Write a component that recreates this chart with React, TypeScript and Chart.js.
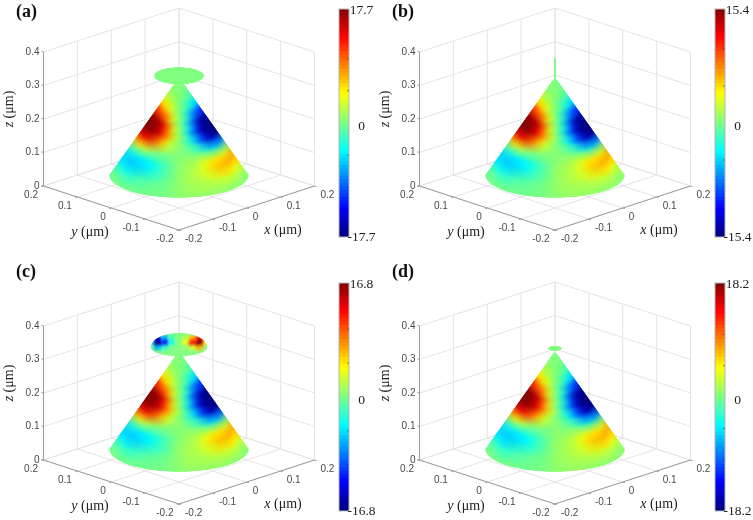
import React, { useEffect, useRef } from "react";
import { Chart, registerables } from "chart.js";

Chart.register(...registerables);

const panelLabels = ["(a)", "(b)", "(c)", "(d)"];
const colorbarPeaks = [17.7, 15.4, 16.8, 18.2];
const colorbarTicks = [-15, -10, -5, 5, 10, 15];
const xTicks = [-0.2, -0.1, 0, 0.1, 0.2];
const yTicks = [-0.2, -0.1, 0, 0.1, 0.2];
const zTicks = [0, 0.1, 0.2, 0.3, 0.4];

// Cone geometry (micrometres)
const baseRadius = 0.145;
const baseZ = 0.033;
const apexZ = 0.324;

// Top features of each panel (micrometres)
const discRadius = [0.0516, 0, 0, 0.0135];
const discZ = [0.329, 0, 0, 0.333];
const spikeTop = [0, 0.382, 0, 0];
const domeRadius = 0.0585;
const domeZ = 0.337;
const domeRise = 0.042;

// Field on the visible cone, fraction of the panel's peak.
// Rows: distance from the apex (0) to the rim (1). Columns: position across the cone.
const coneRows = [0.08, 0.16, 0.24, 0.32, 0.4, 0.48, 0.56, 0.64, 0.72, 0.8, 0.88, 0.96, 1.04];
const coneCols = [-1, -0.83, -0.67, -0.5, -0.33, -0.17, 0, 0.17, 0.33, 0.5, 0.67, 0.83, 1];
const coneField = [
  [0.02, 0.02, 0.01, 0.01, 0.01, 0, 0, 0, 0, -0.01, -0.01, -0.02, -0.02],
  [0.1, 0.1, 0.08, 0.06, 0.04, 0.02, 0.01, -0.01, -0.03, -0.05, -0.08, -0.1, -0.1],
  [0.32, 0.3, 0.24, 0.17, 0.1, 0.05, 0.01, -0.03, -0.08, -0.15, -0.24, -0.3, -0.32],
  [0.65, 0.65, 0.55, 0.38, 0.22, 0.08, 0.02, -0.06, -0.18, -0.36, -0.55, -0.65, -0.65],
  [0.95, 1, 0.9, 0.72, 0.4, 0.12, 0.04, -0.08, -0.27, -0.55, -0.82, -1, -0.95],
  [1, 1, 0.92, 0.75, 0.52, 0.22, 0.06, -0.1, -0.32, -0.58, -0.85, -1, -1],
  [0.85, 0.78, 0.62, 0.46, 0.25, 0.1, 0.03, -0.06, -0.2, -0.36, -0.62, -0.85, -1],
  [0.42, 0.22, 0.1, 0.05, 0.02, 0.01, 0.02, 0.01, -0.03, -0.08, -0.2, -0.32, -0.48],
  [-0.12, -0.27, -0.26, -0.2, -0.12, -0.05, 0.02, 0.05, 0.1, 0.18, 0.27, 0.27, 0.14],
  [-0.35, -0.37, -0.32, -0.26, -0.16, -0.07, 0.04, 0.08, 0.13, 0.22, 0.36, 0.42, 0.45],
  [-0.27, -0.22, -0.13, -0.08, -0.05, -0.02, 0.04, 0.08, 0.1, 0.13, 0.18, 0.22, 0.25],
  [-0.05, -0.05, -0.05, -0.04, -0.03, -0.01, 0.03, 0.06, 0.07, 0.07, 0.06, 0.05, 0.04],
  [-0.01, -0.01, -0.01, -0.01, -0.01, 0, 0.02, 0.03, 0.03, 0.03, 0.03, 0.02, 0.02],
];

// Field on the dome of panel (c), fraction of the peak.
const domeRows = [0.039, 0.024, 0.009, -0.006, -0.021];
const domeCols = [-1, -0.75, -0.5, -0.25, 0, 0.25, 0.5, 0.75, 1];
const domeField = [
  [0, -0.05, 0, 0, 0, 0, 0, 0.05, 0],
  [-0.3, -0.75, -0.4, -0.1, 0, 0.1, 0.4, 0.75, 0.3],
  [-0.25, -1, -0.7, -0.2, 0, 0.2, 0.7, 1, 0.3],
  [0, -0.4, -0.15, -0.02, 0, 0.02, 0.15, 0.4, 0],
  [0, 0, 0, 0, 0, 0, 0, 0, 0],
];

const discRings = [0, 0.35, 0.7, 1];
const discSpokes = [0, 60, 120, 180, 240, 300];

// Canvas layout
const panelLeft = [0, 376, 0, 376];
const panelTop = [0, 0, 260, 260];
const originY = [186, 186, 200, 200];
const originX = 179;
const panelW = 376;
const panelH = 260;
const pxPerX = 338.75;
const pxPerV = 335;
const floorK = 110 / 335;

const clamp = (v: number) => Math.max(0, Math.min(1, v));
function jet(f: number, alpha = 1) {
  const t = (f + 1) / 2;
  const c = (k: number) => Math.round(255 * clamp(1.5 - Math.abs(4 * t - k)));
  return `rgba(${c(3)},${c(2)},${c(1)},${alpha})`;
}
const project = (x: number, y: number, z: number) => ({ x: x - y, y: z + (x + y) * floorK });

function conePoint(s: number, u: number) {
  const c = Math.sqrt(Math.max(0, 1 - u * u));
  const r = baseRadius * s;
  return project((r * (u - c)) / Math.SQRT2, (-r * (u + c)) / Math.SQRT2, apexZ - (apexZ - baseZ) * s);
}

function rimOutline(radius: number, z: number, from: number, to: number, n = 48) {
  const pts = [];
  for (let i = 0; i <= n; i++) {
    const a = ((from + ((to - from) * i) / n) * Math.PI) / 180;
    const u = Math.sin(a);
    const c = Math.cos(a);
    pts.push(project((radius * (u - c)) / Math.SQRT2, (-radius * (u + c)) / Math.SQRT2, z));
  }
  return pts;
}

function segments(list: [number, number, number][][]) {
  const pts: { x: number; y: number }[] = [];
  list.forEach(([a, b]) => {
    pts.push(project(a[0], a[1], a[2]), project(b[0], b[1], b[2]), { x: NaN, y: NaN });
  });
  return pts;
}

function gridDataset() {
  const segs: [number, number, number][][] = [];
  const zMax = zTicks[zTicks.length - 1];
  const lo = xTicks[0];
  const hi = xTicks[xTicks.length - 1];
  zTicks.forEach((z) => {
    segs.push([[lo, hi, z], [hi, hi, z]]);
    segs.push([[hi, lo, z], [hi, hi, z]]);
  });
  xTicks.forEach((x) => {
    segs.push([[x, hi, 0], [x, hi, zMax]]);
    segs.push([[x, lo, 0], [x, hi, 0]]);
  });
  yTicks.forEach((y) => {
    segs.push([[hi, y, 0], [hi, y, zMax]]);
    segs.push([[lo, y, 0], [hi, y, 0]]);
  });
  return {
    data: segments(segs),
    showLine: true,
    borderColor: "#e4e4e4",
    borderWidth: 1,
    pointRadius: 0,
    order: 5,
  };
}

function axisDataset() {
  const segs: [number, number, number][][] = [];
  const zMax = zTicks[zTicks.length - 1];
  const lo = xTicks[0];
  const hi = xTicks[xTicks.length - 1];
  const t = 0.006;
  segs.push([[lo, hi, 0], [lo, hi, zMax]]);
  segs.push([[lo, lo, 0], [hi, lo, 0]]);
  segs.push([[lo, lo, 0], [lo, hi, 0]]);
  xTicks.forEach((x) => segs.push([[x, lo, 0], [x, lo - t, 0]]));
  yTicks.forEach((y) => segs.push([[lo, y, 0], [lo - t, y, 0]]));
  zTicks.forEach((z) => segs.push([[lo, hi, z], [lo, hi + t, z]]));
  return {
    data: segments(segs),
    showLine: true,
    borderColor: "#9a9a9a",
    borderWidth: 1,
    pointRadius: 0,
    order: 4,
  };
}

function coneDataset(peak: number, alpha: number, reversed: boolean, order: number) {
  const data: any[] = [];
  const colors: string[] = [];
  const radii: number[] = [];
  const rows = coneRows.map((_, i) => i);
  const cols = coneCols.map((_, j) => j);
  if (reversed) {
    rows.reverse();
    cols.reverse();
  }
  rows.forEach((i) => {
    cols.forEach((j) => {
      const s = coneRows[i];
      const value = coneField[i][j] * peak;
      data.push({ ...conePoint(s, coneCols[j]), value });
      colors.push(jet(value / peak, alpha));
      radii.push(5 + 5 * s);
    });
  });
  const outline = [project(0, 0, apexZ), ...rimOutline(baseRadius, baseZ, -90, 90)];
  return {
    data,
    showLine: false,
    pointRadius: radii,
    pointBackgroundColor: colors,
    pointBorderWidth: 0,
    order,
    outline,
    blurPx: 2.6,
  };
}

function domeDataset(peak: number) {
  const data: any[] = [];
  const colors: string[] = [];
  domeRows.forEach((row, i) => {
    domeCols.forEach((u, j) => {
      const value = domeField[i][j] * peak;
      data.push({ x: domeRadius * Math.SQRT2 * u, y: domeZ + row, value });
      colors.push(jet(value / peak));
    });
  });
  const lower = rimOutline(domeRadius, domeZ, -90, 90);
  const upper = [];
  for (let a = 0; a <= 180; a += 6) {
    const t = (a * Math.PI) / 180;
    upper.push({ x: domeRadius * Math.SQRT2 * Math.cos(t), y: domeZ + domeRise * Math.sin(t) });
  }
  return {
    data,
    showLine: false,
    pointRadius: 4.5,
    pointBackgroundColor: colors,
    pointBorderWidth: 0,
    order: 1,
    outline: [...lower, ...upper],
    blurPx: 1.4,
  };
}

function discDataset(radius: number, z: number) {
  const data: any[] = [];
  discRings.forEach((ring) => {
    discSpokes.forEach((deg) => {
      const a = (deg * Math.PI) / 180;
      const p = project(radius * ring * Math.cos(a), radius * ring * Math.sin(a), z);
      data.push({ ...p, value: 0 });
    });
  });
  return {
    data,
    showLine: false,
    pointRadius: radius * 200 + 2,
    pointBackgroundColor: jet(0),
    pointBorderWidth: 0,
    order: 1,
    outline: rimOutline(radius, z, 0, 360),
  };
}

function spikeDataset(top: number) {
  return {
    data: [project(0, 0, apexZ - 0.003), project(0, 0, top)],
    showLine: true,
    borderColor: "#86f58a",
    borderWidth: 2,
    pointRadius: 0,
    order: 1,
  };
}

const surfacePlugin = {
  id: "surface",
  beforeDatasetDraw(chart: any, args: any) {
    const ds = chart.data.datasets[args.index];
    if (!ds.outline) return;
    const { ctx, scales } = chart;
    ctx.save();
    ctx.beginPath();
    ds.outline.forEach((p: any, i: number) => {
      const px = scales.x.getPixelForValue(p.x);
      const py = scales.y.getPixelForValue(p.y);
      if (i === 0) ctx.moveTo(px, py);
      else ctx.lineTo(px, py);
    });
    ctx.closePath();
    ctx.clip();
    if (ds.blurPx) ctx.filter = `blur(${ds.blurPx}px)`;
  },
  afterDatasetDraw(chart: any, args: any) {
    const ds = chart.data.datasets[args.index];
    if (ds.outline) chart.ctx.restore();
  },
};

const fmt = (v: number) => (v === 0 ? "0" : v.toFixed(1));

function drawParts(ctx: any, parts: [string, string][], cx: number, cy: number) {
  let w = 0;
  parts.forEach(([t, f]) => {
    ctx.font = f;
    w += ctx.measureText(t).width;
  });
  let x = cx - w / 2;
  ctx.textAlign = "left";
  ctx.textBaseline = "middle";
  parts.forEach(([t, f]) => {
    ctx.font = f;
    ctx.fillText(t, x, cy);
    x += ctx.measureText(t).width;
  });
}

const italic = 'italic 14px "Liberation Serif"';
const roman = '14px "Liberation Serif"';

const textPlugin = {
  id: "panelText",
  afterDraw(chart: any) {
    const { ctx, scales } = chart;
    const panel = chart.options.plugins.panelText.label;
    const lo = xTicks[0];
    const hi = xTicks[xTicks.length - 1];
    const at = (x: number, y: number, z: number) => {
      const p = project(x, y, z);
      return [scales.x.getPixelForValue(p.x), scales.y.getPixelForValue(p.y)];
    };
    ctx.save();
    ctx.fillStyle = "#4a4a4a";
    ctx.font = '10px "Liberation Sans"';
    ctx.textBaseline = "middle";
    ctx.textAlign = "left";
    xTicks.forEach((x) => {
      const [px, py] = at(x, lo, 0);
      ctx.fillText(fmt(x), px + 6, py + 9);
    });
    ctx.textAlign = "right";
    yTicks.forEach((y) => {
      const [px, py] = at(lo, y, 0);
      ctx.fillText(fmt(y), px - 5.5, py + 9);
    });
    zTicks.forEach((z) => {
      const [px, py] = at(lo, hi, z);
      ctx.fillText(fmt(z), px - 4, py);
    });

    ctx.fillStyle = "#222";
    const [fx, fy] = at(lo, lo, 0);
    drawParts(ctx, [["y", italic], [" (μm)", roman]], fx - 89, fy + 2);
    drawParts(ctx, [["x", italic], [" (μm)", roman]], fx + 104, fy);
    const [zx, zy] = at(lo, hi, zTicks[2]);
    ctx.save();
    ctx.translate(zx - 34, zy - 10);
    ctx.rotate(-Math.PI / 2);
    drawParts(ctx, [["z", italic], [" (μm)", roman]], 0, 0);
    ctx.restore();

    ctx.fillStyle = "#111";
    ctx.font = 'bold 18px "Liberation Serif"';
    ctx.textAlign = "left";
    ctx.textBaseline = "middle";
    ctx.fillText(panel, 16, 12);
    ctx.restore();
  },
};

const barPlugin = {
  id: "barText",
  afterDraw(chart: any) {
    const { ctx, chartArea, scales } = chart;
    const peak = chart.options.plugins.barText.peak;
    const y = scales.y;
    ctx.save();
    ctx.strokeStyle = "rgba(40,40,40,0.6)";
    ctx.lineWidth = 1;
    y.ticks.forEach((t: any) => {
      const py = y.getPixelForValue(t.value);
      ctx.beginPath();
      ctx.moveTo(chartArea.right - 2, py);
      ctx.lineTo(chartArea.right, py);
      ctx.stroke();
    });
    ctx.strokeStyle = "#b5b5b5";
    ctx.strokeRect(chartArea.left, chartArea.top, chartArea.right - chartArea.left, chartArea.bottom - chartArea.top);
    ctx.fillStyle = "#222";
    ctx.font = '13.5px "Liberation Serif"';
    ctx.textAlign = "center";
    ctx.textBaseline = "middle";
    [
      [peak, 1],
      [0, 3.5],
      [-peak, 0],
    ].forEach(([v, nudge]) => {
      ctx.fillText(v === 0 ? "0" : v.toFixed(1), chartArea.right + 12.5, y.getPixelForValue(v) + nudge);
    });
    ctx.restore();
  },
};

const barLevels = Array.from({ length: 64 }, (_, i) => i);

export default function App() {
  const panelRefs = useRef<(HTMLCanvasElement | null)[]>([]);
  const barRefs = useRef<(HTMLCanvasElement | null)[]>([]);

  useEffect(() => {
    const charts: Chart[] = [];
    panelLabels.forEach((label, i) => {
      const peak = colorbarPeaks[i];
      const datasets: any[] = [];
      if (discRadius[i] > 0) datasets.push(discDataset(discRadius[i], discZ[i]));
      if (spikeTop[i] > 0) datasets.push(spikeDataset(spikeTop[i]));
      if (label === "(c)") datasets.push(domeDataset(peak));
      datasets.push(coneDataset(peak, 0.35, true, 2), coneDataset(peak, 1, false, 3), axisDataset(), gridDataset());
      charts.push(
        new Chart(panelRefs.current[i] as HTMLCanvasElement, {
          type: "scatter",
          data: { datasets },
          plugins: [surfacePlugin, textPlugin],
          options: {
            animation: false,
            responsive: false,
            layout: { padding: 0, autoPadding: false },
            events: [],
            scales: {
              x: { display: false, type: "linear", min: -originX / pxPerX, max: (panelW - originX) / pxPerX },
              y: { display: false, type: "linear", min: (originY[i] - panelH) / pxPerV, max: originY[i] / pxPerV },
            },
            plugins: { legend: { display: false }, tooltip: { enabled: false }, panelText: { label } },
          },
        } as any)
      );

      const n = barLevels.length;
      const barTop = i < 2 ? 9 : 23;
      charts.push(
        new Chart(barRefs.current[i] as HTMLCanvasElement, {
          type: "bar",
          data: {
            labels: ["μV"],
            datasets: barLevels.map((k) => ({
              data: [[-peak + (2 * peak * k) / n, -peak + (2 * peak * (k + 1.15)) / n]],
              backgroundColor: jet((2 * (k + 0.5)) / n - 1),
              borderWidth: 0,
              grouped: false,
              barPercentage: 1,
              categoryPercentage: 1,
            })),
          },
          plugins: [barPlugin],
          options: {
            animation: false,
            responsive: false,
            events: [],
            layout: { padding: { left: 5, right: 27, top: barTop, bottom: panelH - barTop - 228 }, autoPadding: false },
            scales: {
              x: { display: false },
              y: {
                display: false,
                min: -peak,
                max: peak,
                afterBuildTicks: (s: any) => {
                  s.ticks = colorbarTicks.filter((v) => Math.abs(v) < peak).map((value) => ({ value }));
                },
              },
            },
            plugins: { legend: { display: false }, tooltip: { enabled: false }, barText: { peak } },
          },
        } as any)
      );
    });
    return () => charts.forEach((c) => c.destroy());
  }, []);

  return (
    <div style={{ position: "fixed", left: 0, top: 0, width: 753, height: 520, background: "#fff", overflow: "hidden" }}>
      {panelLabels.map((label, i) => (
        <React.Fragment key={label}>
          <canvas
            ref={(el) => {
              panelRefs.current[i] = el;
            }}
            width={panelW}
            height={panelH}
            style={{ position: "absolute", left: panelLeft[i], top: panelTop[i], width: panelW, height: panelH }}
          />
          <canvas
            ref={(el) => {
              barRefs.current[i] = el;
            }}
            width={42}
            height={panelH}
            style={{ position: "absolute", left: panelLeft[i] + 334, top: panelTop[i], width: 42, height: panelH }}
          />
        </React.Fragment>
      ))}
    </div>
  );
}
